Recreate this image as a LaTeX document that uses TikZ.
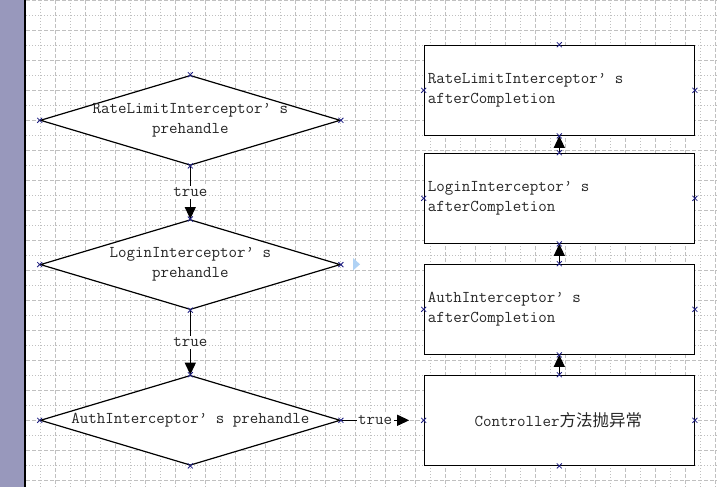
\documentclass[tikz,border=0pt]{standalone}
\usepackage{fontspec}
\newfontfamily\cjk{Noto Sans CJK SC}
\usetikzlibrary{shapes.geometric,arrows.meta}
\definecolor{strip}{RGB}{152,152,188}
\definecolor{gridc}{RGB}{192,192,192}
\definecolor{mkc}{RGB}{30,30,130}
\definecolor{tri}{RGB}{175,210,245}
\tikzset{
 dia/.style={diamond, draw=black, fill=white, line width=1.2pt, minimum width=300pt, minimum height=90pt, inner sep=0pt},
 box/.style={rectangle, draw=black, fill=white, line width=1.2pt, minimum width=270pt, minimum height=90pt, inner sep=0pt},
 txt/.style={font=\fontsize{16.5}{20}\selectfont\ttfamily, text=black!85, inner sep=0pt},
 lbl/.style={txt, fill=white, inner sep=1.5pt},
 arr/.style={line width=1.2pt, -{Triangle[length=12pt,width=11pt]}},
 gdash/.style={gridc, line width=0.8pt, dash pattern=on 4pt off 2pt},
 gdot/.style={gridc, line width=0.8pt, dash pattern=on 1pt off 2pt},
}
\newcommand\mkx[1]{\draw[mkc,line width=0.8pt] ([shift={(-2.5,-2.5)}]#1) -- ([shift={(2.5,2.5)}]#1) ([shift={(-2.5,2.5)}]#1) -- ([shift={(2.5,-2.5)}]#1);}
\begin{document}
\begin{tikzpicture}[x=1pt,y=-1pt]
\useasboundingbox (0,0) rectangle (717,487);
% background
\fill[white] (0,0) rectangle (717,487);
\fill[strip] (0,0) rectangle (24,487);
\draw[black, line width=2pt] (25,0) -- (25,487);
% grid
\foreach \k in {1,...,23} {\draw[gdash] (25.7+30*\k,0) -- (25.7+30*\k,487);}
\foreach \k in {0,...,22} {\draw[gdot] (40.7+30*\k,0) -- (40.7+30*\k,487);}
\foreach \k in {0,...,16} {\draw[gdash] (26,0.5+30*\k) -- (717,0.5+30*\k);}
\foreach \k in {0,...,15} {\draw[gdot] (26,15.5+30*\k) -- (717,15.5+30*\k);}
% decisions
\node[dia] (d1) at (190.3,120.3) {};
\node[dia] (d2) at (190.3,264.6) {};
\node[dia] (d3) at (190.3,420.3) {};
\node[txt, align=center] (t1) at (d1.center) {RateLimitInterceptor’ s\\prehandle};
\node[txt, align=center] (t2) at (d2.center) {LoginInterceptor’ s\\prehandle};
\node[txt, align=center] (t3) at (d3.center) {AuthInterceptor’ s prehandle};
% boxes
\node[box] (b1) at (559.3,90.3) {};
\node[box] (b2) at (559.3,198.3) {};
\node[box] (b3) at (559.3,309.3) {};
\node[box] (b4) at (559.3,420.3) {};
\node[txt, anchor=west, align=left] (u1) at ([xshift=4pt]b1.west) {RateLimitInterceptor’ s\\afterCompletion};
\node[txt, anchor=west, align=left] (u2) at ([xshift=4pt]b2.west) {LoginInterceptor’ s\\afterCompletion};
\node[txt, anchor=west, align=left] (u3) at ([xshift=4pt]b3.west) {AuthInterceptor’ s\\afterCompletion};
\node[txt] (u4) at ([xshift=-1pt]b4.center) {Controller{\cjk\fontsize{16.5}{20}\selectfont 方法抛异常}};
% connectors
\draw[arr] (d1.south) -- node[lbl] (l1) {true} (d2.north);
\draw[arr] (d2.south) -- node[lbl] (l2) {true} (d3.north);
\coordinate (e3) at ([xshift=-14.5pt]b4.west);
\draw[arr] (d3.east) -- node[lbl] (l3) {true} (e3);
\draw[arr] (b4.north) -- (b3.south);
\draw[arr] (b3.north) -- (b2.south);
\draw[arr] (b2.north) -- (b1.south);
% small triangle
\fill[tri] (353,258) -- (360,264.3) -- (353,270.5) -- cycle;
% markers
\foreach \n in {d1,d2,d3,b1,b2,b3,b4} {\foreach \a in {north,south,east,west} {\mkx{\n.\a}}}
\end{tikzpicture}
\end{document}
